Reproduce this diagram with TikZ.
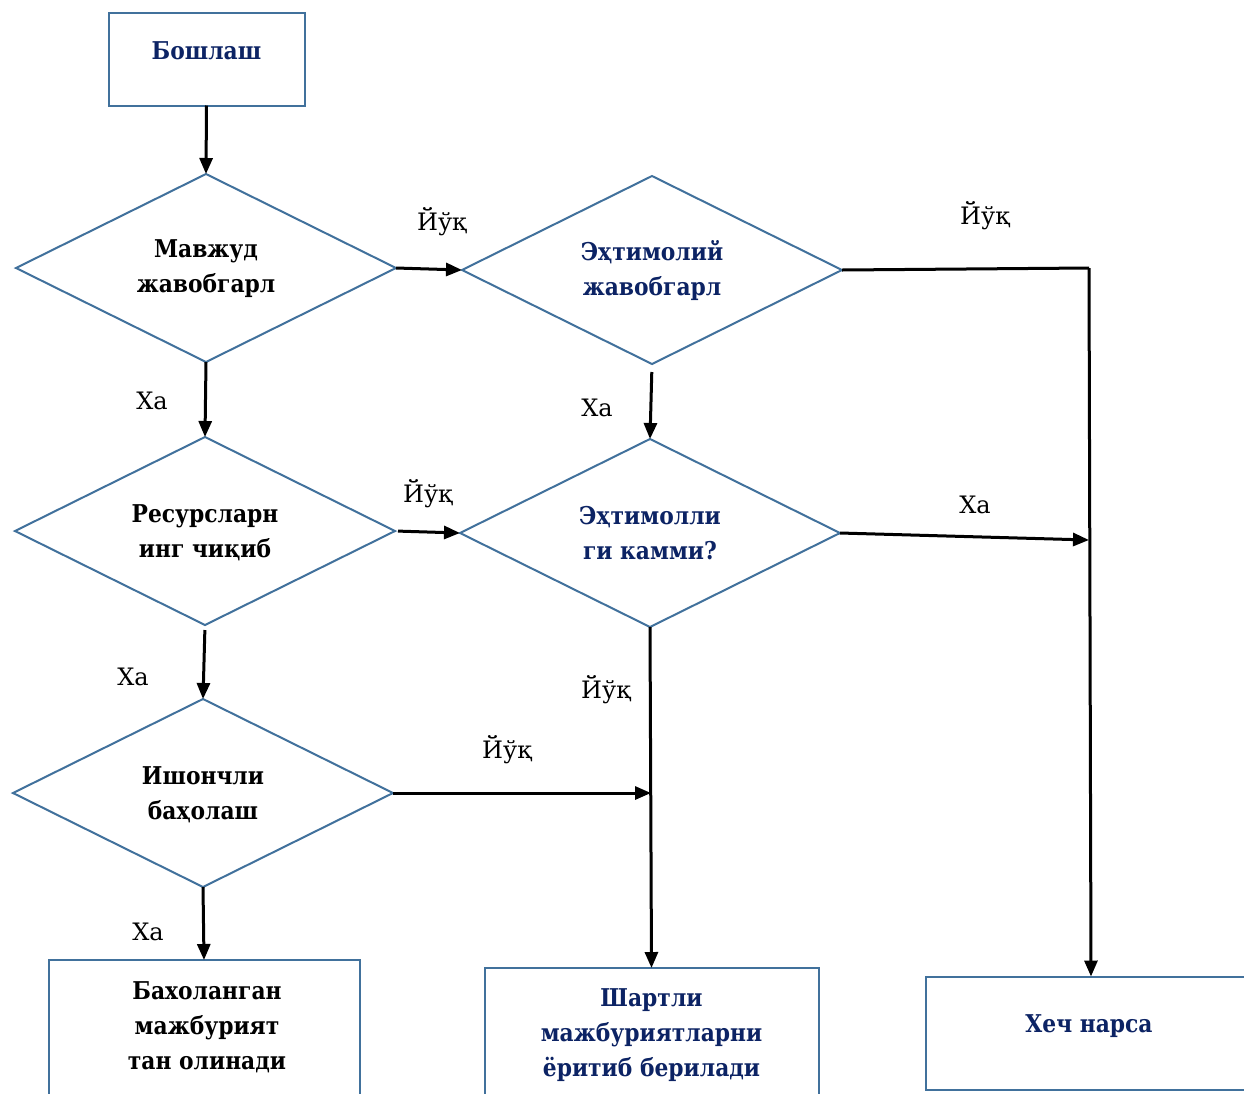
\documentclass[tikz,border=0pt]{standalone}
\usepackage{fontspec}
\setmainfont{DejaVu Serif}
\newfontfamily\boxfont{DejaVu Serif}[FakeStretch=0.89]
\usetikzlibrary{shapes.geometric,arrows.meta}
\definecolor{edgeblue}{RGB}{65,113,156}
\definecolor{navy}{RGB}{12,35,100}
\begin{document}
\begin{tikzpicture}[x=1pt,y=-1pt,
  dia/.style={diamond, draw=edgeblue, line width=2pt, inner sep=0pt, outer sep=0pt,
    minimum width=380pt, minimum height=188pt},
  boxshape/.style={rectangle, draw=edgeblue, line width=2pt, inner sep=0pt, outer sep=0pt},
  boxtext/.style={align=center, inner sep=0pt, font=\boxfont\fontsize{24.5}{35}\selectfont\bfseries},
  conn/.style={line width=3pt, -{Triangle[length=16pt,width=13pt]}},
  plain/.style={line width=3pt},
  lbl/.style={inner sep=0pt, font=\fontsize{24}{28}\selectfont}]
\useasboundingbox (0,0) rectangle (1244,1093);
\clip (0,0) rectangle (1244,1093);
\fill[white] (0,0) rectangle (1244,1093);

% start box
\node[boxshape, minimum width=196pt, minimum height=93pt] (start) at (206.5,59) {};
\node[boxtext, text=navy] (startT) at (206.5,51) {Бошлаш};

% diamonds
\node[dia] (d1) at (206,268) {};
\node[boxtext] (d1T) at (206,269) {Мавжуд\\жавобгарл};
\node[dia] (d2) at (652,270) {};
\node[boxtext, text=navy] (d2T) at (652,271) {Эҳтимолий\\жавобгарл};
\node[dia] (d3) at (205,531) {};
\node[boxtext] (d3T) at (205,532.5) {Ресурсларн\\инг чиқиб};
\node[dia] (d4) at (650,533) {};
\node[boxtext, text=navy] (d4T) at (650,533.5) {Эҳтимолли\\ги камми?};
\node[dia] (d5) at (203,793) {};
\node[boxtext] (d5T) at (203,794.5) {Ишончли\\баҳолаш};

% bottom boxes
\node[boxshape, minimum width=311pt, minimum height=150pt] (b1) at (204,1035) {};
\node[boxtext] (b1T) at (207,1027) {Бахоланган\\мажбурият\\ тан олинади};
\node[boxshape, minimum width=334pt, minimum height=150pt] (b2) at (651.5,1043) {};
\node[boxtext, text=navy] (b2T) at (651.5,1035) {Шартли\\мажбуриятларни\\ёритиб берилади};
\node[boxshape, minimum width=330pt, minimum height=113pt] (b3) at (1091,1033) {};
\node[boxtext, text=navy] (b3T) at (1089,1026) {Хеч нарса};

% junction coordinates
\coordinate (j1) at (1089,268);
\coordinate (j2) at (1089,540);
\coordinate (j3) at (651,793);

% connectors
\draw[conn] (start.south) -- (d1.north);
\draw[conn] (d1.east) -- (d2.west);
\draw[conn] (d1.south) -- (d3.north);
\draw[conn, shorten <=8pt] (d2.south) -- (d4.north);
\draw[plain] (d2.east) -- (j1);
\draw[conn] (j1) -- (b3.north);
\draw[conn, shorten <=3pt] (d3.east) -- (d4.west);
\draw[conn, shorten <=5pt] (d3.south) -- (d5.north);
\draw[conn] (d4.east) -- (j2);
\draw[conn] (d4.south) -- (b2.north);
\draw[conn] (d5.east) -- (j3);
\draw[conn] (d5.south) -- (b1.north);

% labels
\node[lbl] (l1) at (442,222) {Йўқ};
\node[lbl] (l2) at (985,216) {Йўқ};
\node[lbl] (l3) at (152,401) {Ха};
\node[lbl] (l4) at (597,408) {Ха};
\node[lbl] (l5) at (428,494) {Йўқ};
\node[lbl] (l6) at (975,505) {Ха};
\node[lbl] (l7) at (133,677) {Ха};
\node[lbl] (l8) at (606,690) {Йўқ};
\node[lbl] (l9) at (507,750) {Йўқ};
\node[lbl] (l10) at (148,932) {Ха};
\end{tikzpicture}
\end{document}
